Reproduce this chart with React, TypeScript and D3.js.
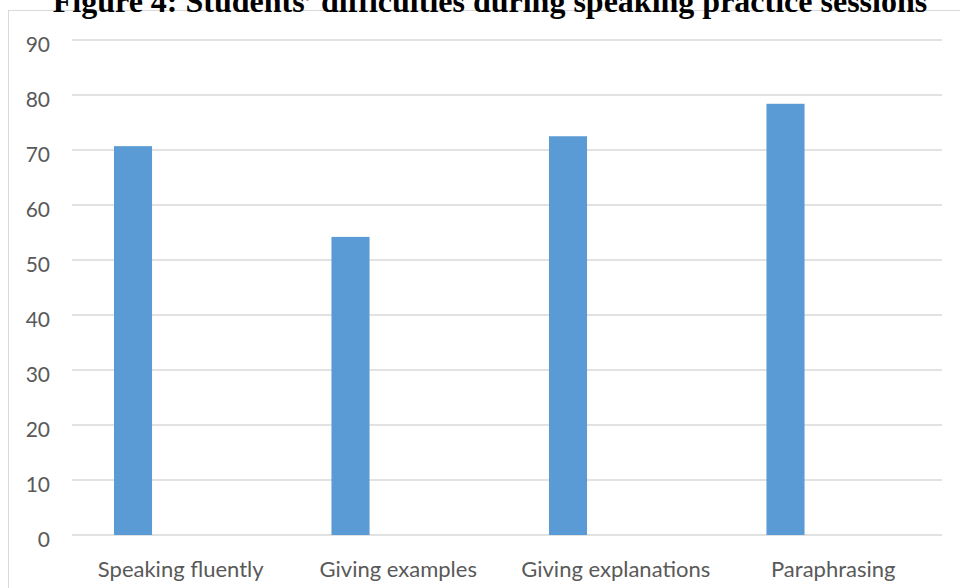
import * as d3 from "d3";

const categories = ["Speaking fluently", "Giving examples", "Giving explanations", "Paraphrasing"];
const values = [70.7, 54.2, 72.5, 78.4];
const yTicks = [0, 10, 20, 30, 40, 50, 60, 70, 80, 90];
const title = "Figure 4: Students\u2019 difficulties during speaking practice sessions";

const W = 960;
const H = 588;

export default function App() {
  const x = d3.scaleBand<string>().domain(categories).range([72, 942]).padding(0);
  const y = d3.scaleLinear().domain([0, 90]).range([535, 40]);
  const bw = x.bandwidth();

  const labelFont = "Lato";

  return (
    <svg
      width={W}
      height={H}
      style={{ position: "absolute", left: 0, top: 0, background: "#fff" }}
    >
      {/* chart frame */}
      <rect x={8.5} y={10.5} width={W} height={H} fill="#fff" stroke="#d9d9d9" strokeWidth={1} />

      {/* gridlines */}
      {yTicks.map((t) => (
        <line
          key={"g" + t}
          x1={72}
          x2={942}
          y1={y(t)}
          y2={y(t)}
          stroke="#d9d9d9"
          strokeWidth={1.5}
        />
      ))}

      {/* y labels */}
      {yTicks.map((t) => (
        <text
          key={"t" + t}
          x={50}
          y={y(t) + 12}
          textAnchor="end"
          fontFamily={labelFont}
          fontSize={21}
          fill="#595959"
        >
          {t}
        </text>
      ))}

      {/* bars */}
      {categories.map((c, i) => (
        <rect
          key={c}
          x={(x(c) as number) + bw * 0.193}
          y={y(values[i])}
          width={bw * 0.175}
          height={y(0) - y(values[i])}
          fill="#5b9bd5"
        />
      ))}

      {/* category labels */}
      {categories.map((c) => (
        <text
          key={"c" + c}
          x={(x(c) as number) + bw / 2}
          y={577}
          textAnchor="middle"
          fontFamily={labelFont}
          fontSize={22}
          fill="#595959"
        >
          {c}
        </text>
      ))}

      <text
        x={490}
        y={12}
        textAnchor="middle"
        fontFamily="'Liberation Serif', 'Times New Roman', serif"
        fontWeight="bold"
        fontSize={32}
        fill="#000"
      >
        {title}
      </text>
    </svg>
  );
}
